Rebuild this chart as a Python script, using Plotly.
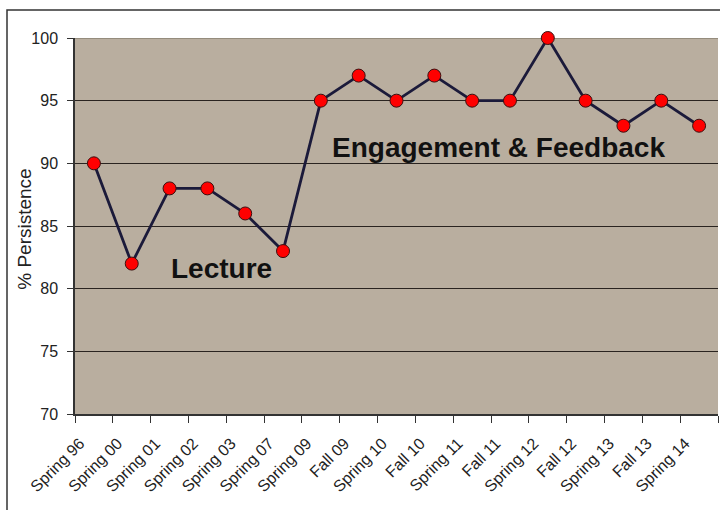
import plotly.graph_objects as go

categories = ["Spring 96", "Spring 00", "Spring 01", "Spring 02", "Spring 03", "Spring 07",
              "Spring 09", "Fall 09", "Spring 10", "Fall 10", "Spring 11", "Fall 11",
              "Spring 12", "Fall 12", "Spring 13", "Fall 13", "Spring 14"]
persistence = [90, 82, 88, 88, 86, 83, 95, 97, 95, 97, 95, 95, 100, 95, 93, 95, 93]
y_ticks = [70, 75, 80, 85, 90, 95, 100]

fig = go.Figure()
fig.add_trace(go.Scatter(
    x=categories, y=persistence, mode="lines+markers",
    line=dict(color="#1b1a3a", width=2.8),
    marker=dict(color="#ff0000", size=13, line=dict(color="#3a1010", width=1)),
    cliponaxis=False, showlegend=False,
))

W, H = 720, 510
L, R, T, B = 75, 2, 38, 96
pw, ph = W - L - R, H - T - B

def px(X):
    return (X - L) / pw

def py(Y):
    return (H - B - Y) / ph

fig.add_shape(type="rect", xref="paper", yref="paper",
              x0=px(7), x1=px(730), y0=py(520), y1=py(10),
              line=dict(color="#333333", width=1.5), layer="below")
fig.add_shape(type="line", xref="paper", yref="y", x0=0, x1=1, y0=100, y1=100,
              line=dict(color="#8a8072", width=1.5), layer="below")

fig.add_annotation(x=3.36, y=81.6, xref="x", yref="y", text="<b>Lecture</b>",
                   showarrow=False, font=dict(family="Arial, Liberation Sans", size=28, color="#111111"))
fig.add_annotation(x=10.7, y=91.3, xref="x", yref="y", text="<b>Engagement &amp; Feedback</b>",
                   showarrow=False, font=dict(family="Arial, Liberation Sans", size=28, color="#111111"))
fig.add_annotation(x=px(25), y=84.7, xref="paper", yref="y", text="% Persistence",
                   textangle=-90, showarrow=False, xanchor="center", yanchor="middle",
                   font=dict(family="Arial, Liberation Sans", size=19, color="#222222"))

fig.update_layout(
    width=W, height=H,
    margin=dict(l=L, r=R, t=T, b=B, autoexpand=False),
    paper_bgcolor="white", plot_bgcolor="#b9ae9f",
    font=dict(family="Arial, Liberation Sans", color="#222222"),
)
fig.update_xaxes(
    type="category", tickangle=-45, tickson="boundaries",
    ticks="outside", ticklen=7, tickcolor="#333333",
    showline=True, linecolor="#333333", linewidth=1.5,
    showgrid=False, tickfont=dict(size=16, color="#222222"),
    ticklabelstandoff=12, ticklabelshift=-14,
    range=[-0.5, 16.5], automargin=False,
)
fig.update_yaxes(
    range=[70, 100], tickvals=y_ticks,
    ticks="outside", ticklen=6, tickcolor="#333333",
    showline=True, linecolor="#333333", linewidth=1.5,
    showgrid=True, gridcolor="#2a2420", gridwidth=1.2,
    tickfont=dict(size=16, color="#222222"),
    ticklabelstandoff=6,
    zeroline=False, automargin=False,
)

fig.write_html("out.html", config={"displayModeBar": False},
               post_script="document.body.style.margin='0';")
